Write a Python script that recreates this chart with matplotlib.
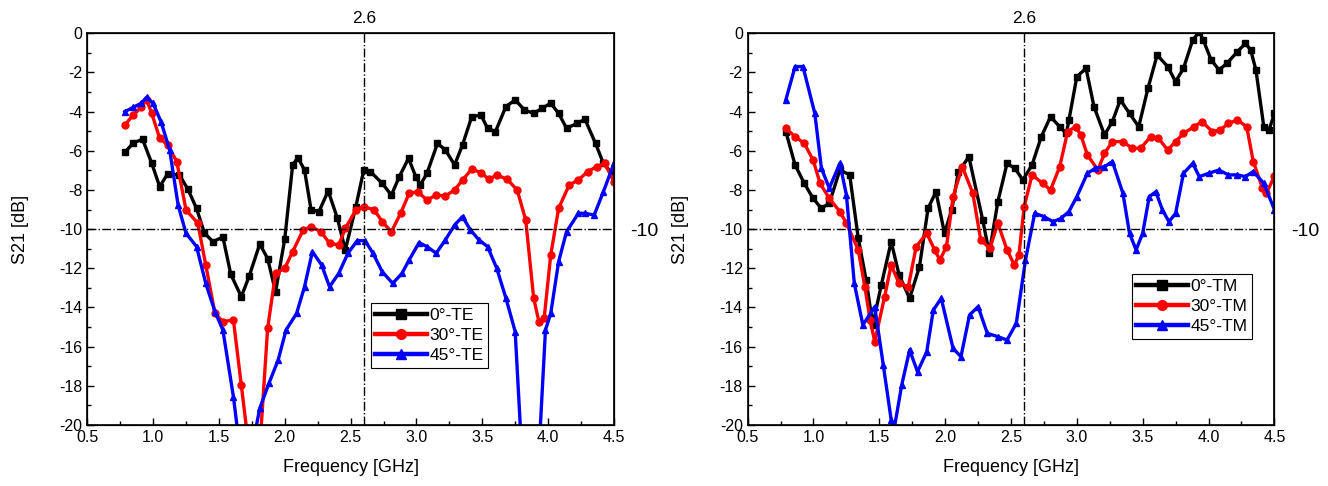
import matplotlib.pyplot as plt
from matplotlib.ticker import MultipleLocator

plt.rcParams['font.family'] = ['Liberation Sans', 'DejaVu Sans']
plt.rcParams['axes.unicode_minus'] = False

# ---- TE polarisation ----
te0_f = [0.785, 0.85, 0.92, 0.99, 1.05, 1.11, 1.20, 1.265, 1.33, 1.39, 1.455, 1.53, 1.59, 1.67,
         1.73, 1.81, 1.87, 1.93, 2.0, 2.06, 2.10, 2.15, 2.20, 2.26, 2.33, 2.40, 2.46, 2.54, 2.60,
         2.65, 2.74, 2.81, 2.87, 2.94, 2.995, 3.03, 3.08, 3.16, 3.22, 3.29, 3.35, 3.42, 3.49, 3.54,
         3.60, 3.68, 3.75, 3.82, 3.89, 3.955, 4.02, 4.08, 4.14, 4.22, 4.28, 4.36, 4.42, 4.485]
te0_s = [-6.08, -5.6, -5.41, -6.64, -7.83, -7.18, -7.23, -7.97, -8.94, -10.2, -10.64, -10.4, -12.3,
         -13.45, -12.4, -10.76, -11.5, -13.2, -10.5, -6.72, -6.35, -6.98, -9.02, -9.1, -8.05, -9.45,
         -11.06, -8.85, -6.98, -7.06, -7.66, -8.26, -7.32, -6.38, -7.32, -7.74, -7.15, -5.62, -5.96,
         -6.72, -5.70, -4.26, -4.17, -4.85, -5.02, -3.74, -3.40, -3.91, -4.09, -3.83, -3.57, -4.09,
         -4.85, -4.60, -4.39, -5.62, -6.64, -7.15]

te30_f = [0.785, 0.85, 0.91, 0.95, 0.99, 1.05, 1.11, 1.18, 1.25, 1.34, 1.40, 1.47, 1.53, 1.61,
          1.67, 1.71, 1.76, 1.82, 1.87, 1.93, 2.0, 2.06, 2.14, 2.20, 2.275, 2.34, 2.41, 2.46, 2.54,
          2.60, 2.68, 2.74, 2.81, 2.88, 2.945, 3.01, 3.08, 3.15, 3.22, 3.29, 3.35, 3.42, 3.49, 3.55,
          3.61, 3.69, 3.765, 3.83, 3.89, 3.93, 3.97, 4.02, 4.08, 4.16, 4.23, 4.30, 4.37, 4.43, 4.50]
te30_s = [-4.68, -4.17, -3.78, -3.40, -4.09, -5.36, -5.70, -6.55, -9.02, -9.70, -11.83, -14.3,
          -14.72, -14.64, -17.96, -20.2, -24.0, -20.2, -15.06, -12.26, -12.0, -11.15, -10.04, -9.87,
          -10.13, -10.72, -10.81, -9.96, -9.02, -8.85, -9.02, -9.62, -10.13, -9.19, -8.17, -8.09,
          -8.51, -8.26, -8.31, -8.0, -7.49, -6.94, -7.11, -7.46, -7.23, -7.46, -8.0, -9.53, -13.5,
          -14.72, -14.55, -11.32, -8.94, -7.74, -7.49, -7.06, -6.81, -6.64, -7.57]

te45_f = [0.785, 0.85, 0.91, 0.95, 1.0, 1.06, 1.126, 1.19, 1.25, 1.33, 1.40, 1.47, 1.53, 1.61,
          1.64, 1.71, 1.78, 1.81, 1.88, 1.95, 2.01, 2.09, 2.15, 2.21, 2.28, 2.34, 2.41, 2.48, 2.55,
          2.61, 2.67, 2.74, 2.82, 2.89, 2.945, 3.02, 3.08, 3.15, 3.22, 3.29, 3.35, 3.41, 3.475,
          3.54, 3.61, 3.68, 3.75, 3.79, 3.865, 3.94, 3.98, 4.02, 4.08, 4.14, 4.23, 4.28, 4.35, 4.42,
          4.50]
te45_s = [-4.0, -3.78, -3.57, -3.27, -3.57, -4.51, -5.96, -8.77, -10.21, -10.89, -12.77, -14.21,
          -15.15, -18.55, -20.2, -26.0, -20.2, -19.15, -17.87, -16.68, -15.15, -14.3, -12.94,
          -11.15, -11.83, -12.94, -12.26, -11.23, -10.59, -10.59, -11.23, -12.17, -12.77, -12.26,
          -11.57, -10.69, -10.89, -11.23, -10.55, -9.79, -9.36, -10.04, -10.55, -10.89, -12.0,
          -13.53, -15.23, -20.2, -26.0, -20.2, -15.15, -14.3, -11.66, -10.13, -9.19, -9.19, -9.28,
          -8.09, -6.64]

# ---- TM polarisation ----
tm0_f = [0.79, 0.86, 0.93, 0.997, 1.06, 1.12, 1.20, 1.275, 1.34, 1.40, 1.45, 1.515, 1.59, 1.65,
         1.73, 1.805, 1.87, 1.93, 1.995, 2.05, 2.10, 2.18, 2.285, 2.335, 2.40, 2.47, 2.53, 2.59,
         2.66, 2.73, 2.80, 2.87, 2.92, 2.94, 3.0, 3.07, 3.13, 3.21, 3.27, 3.33, 3.40, 3.47, 3.54,
         3.61, 3.69, 3.75, 3.81, 3.88, 3.93, 3.96, 4.02, 4.08, 4.14, 4.22, 4.28, 4.32, 4.36, 4.42,
         4.46, 4.50]
tm0_s = [-5.02, -6.72, -7.66, -8.43, -8.94, -8.68, -6.98, -7.23, -10.47, -12.6, -14.89, -12.85,
         -10.64, -12.34, -13.53, -11.91, -8.94, -8.09, -10.21, -9.0, -7.1, -6.3, -9.53, -11.23,
         -8.6, -6.64, -6.9, -7.49, -6.72, -5.28, -4.26, -4.77, -5.11, -4.43, -2.21, -1.79, -3.74,
         -5.19, -4.51, -3.40, -4.09, -4.77, -2.81, -1.11, -1.70, -2.47, -1.79, -0.34, 0.08, -0.34,
         -1.36, -1.87, -1.53, -0.94, -0.51, -0.85, -1.87, -4.77, -4.94, -4.09]

tm30_f = [0.79, 0.86, 0.93, 0.997, 1.05, 1.12, 1.20, 1.25, 1.34, 1.39, 1.43, 1.465, 1.54, 1.59,
          1.65, 1.72, 1.78, 1.86, 1.92, 1.96, 2.01, 2.06, 2.13, 2.21, 2.27, 2.34, 2.40, 2.47, 2.525,
          2.56, 2.60, 2.66, 2.74, 2.80, 2.87, 2.93, 2.99, 3.03, 3.08, 3.16, 3.21, 3.27, 3.35, 3.42,
          3.485, 3.56, 3.62, 3.69, 3.75, 3.81, 3.89, 3.95, 4.03, 4.09, 4.15, 4.22, 4.29, 4.34, 4.41,
          4.44, 4.50]
tm30_s = [-4.85, -5.28, -5.62, -6.47, -7.66, -8.43, -9.1, -9.70, -11.06, -12.94, -14.64, -15.74,
          -13.45, -11.83, -12.77, -12.94, -10.89, -10.21, -11.06, -11.57, -10.89, -8.34, -6.81,
          -8.17, -10.55, -10.98, -9.70, -11.06, -11.83, -11.32, -8.85, -7.23, -7.66, -8.0, -6.81,
          -5.02, -4.77, -5.19, -6.21, -6.98, -6.13, -5.53, -5.53, -5.87, -5.87, -5.28, -5.36,
          -5.96, -5.53, -5.11, -4.77, -4.51, -5.02, -4.94, -4.60, -4.43, -4.77, -6.55, -7.91,
          -8.17, -7.3]

tm45_f = [0.79, 0.86, 0.92, 1.01, 1.06, 1.12, 1.20, 1.25, 1.31, 1.375, 1.465, 1.53, 1.59, 1.61,
          1.67, 1.73, 1.79, 1.86, 1.91, 1.97, 2.06, 2.12, 2.185, 2.25, 2.32, 2.40, 2.47, 2.54,
          2.61, 2.68, 2.75, 2.82, 2.88, 2.94, 3.0, 3.08, 3.14, 3.21, 3.27, 3.35, 3.40, 3.45, 3.50,
          3.55, 3.60, 3.65, 3.70, 3.75, 3.81, 3.88, 3.93, 4.00, 4.08, 4.15, 4.22, 4.28, 4.34, 4.42,
          4.50]
tm45_s = [-3.40, -1.70, -1.70, -4.09, -6.89, -7.91, -6.64, -8.26, -12.77, -14.89, -13.96, -16.94,
          -19.74, -20.3, -17.96, -16.17, -17.28, -16.26, -14.13, -13.53, -16.09, -16.51, -14.38,
          -13.96, -15.32, -15.49, -15.66, -14.81, -11.57, -9.19, -9.36, -9.62, -9.45, -9.1, -8.34,
          -7.15, -6.89, -6.81, -6.55, -8.17, -10.21, -11.06, -10.21, -8.34, -8.09, -9.02, -9.62,
          -9.19, -7.15, -6.64, -7.32, -7.15, -6.98, -7.23, -7.23, -7.32, -7.06, -7.66, -9.0]

panels = [
    [(te0_f, te0_s, '0°-TE'), (te30_f, te30_s, '30°-TE'), (te45_f, te45_s, '45°-TE')],
    [(tm0_f, tm0_s, '0°-TM'), (tm30_f, tm30_s, '30°-TM'), (tm45_f, tm45_s, '45°-TM')],
]
colors = ['black', 'red', 'blue']
markers = ['s', 'o', '^']
legend_pos = [(0.538, 0.146), (0.729, 0.22)]

fig = plt.figure(figsize=(13.28, 4.86), dpi=100)
axes = [fig.add_axes([0.0657, 0.1255, 0.3966, 0.806]),
        fig.add_axes([0.563, 0.1255, 0.3966, 0.806])]

for ax, curves, lpos in zip(axes, panels, legend_pos):
    for (f, s, lab), c, m in zip(curves, colors, markers):
        ax.plot(f, s, color=c, marker=m, lw=2.4, ms=5, label=lab)
    ax.axvline(2.6, color='black', lw=1, ls='-.')
    ax.axhline(-10, color='black', lw=1, ls='-.')
    ax.set_xlim(0.5, 4.5)
    ax.set_ylim(-20, 0)
    ax.xaxis.set_major_locator(MultipleLocator(0.5))
    ax.xaxis.set_minor_locator(MultipleLocator(0.25))
    ax.yaxis.set_major_locator(MultipleLocator(2))
    ax.yaxis.set_minor_locator(MultipleLocator(1))
    ax.tick_params(which='both', direction='in', top=True, right=True, labelsize=11.5)
    ax.tick_params(which='major', length=5, width=1)
    ax.tick_params(which='minor', length=3, width=1)
    for sp in ax.spines.values():
        sp.set_linewidth(1.2)
    ax.set_xlabel('Frequency [GHz]', fontsize=13, labelpad=10)
    ax.set_ylabel('S21 [dB]', fontsize=13, labelpad=22)

    # single labelled marks on the opposite axes
    top = ax.twiny()
    top.set_xlim(ax.get_xlim())
    top.set_xticks([2.6])
    top.tick_params(length=0, labelsize=12.5, pad=5)
    right = ax.twinx()
    right.set_ylim(ax.get_ylim())
    right.set_yticks([-10])
    right.tick_params(length=0, labelsize=14, pad=12)

    leg = ax.legend(loc='lower left', bbox_to_anchor=lpos, fontsize=12.5, frameon=True,
                    fancybox=False, edgecolor='black', handlelength=3.0, handletextpad=0.15,
                    borderpad=0.25, labelspacing=0.3, borderaxespad=0, framealpha=1,
                    markerscale=1.4)
    leg.get_frame().set_linewidth(0.8)
    for line in leg.get_lines():
        line.set_linewidth(3.2)

fig.savefig('out.png', dpi=100)
